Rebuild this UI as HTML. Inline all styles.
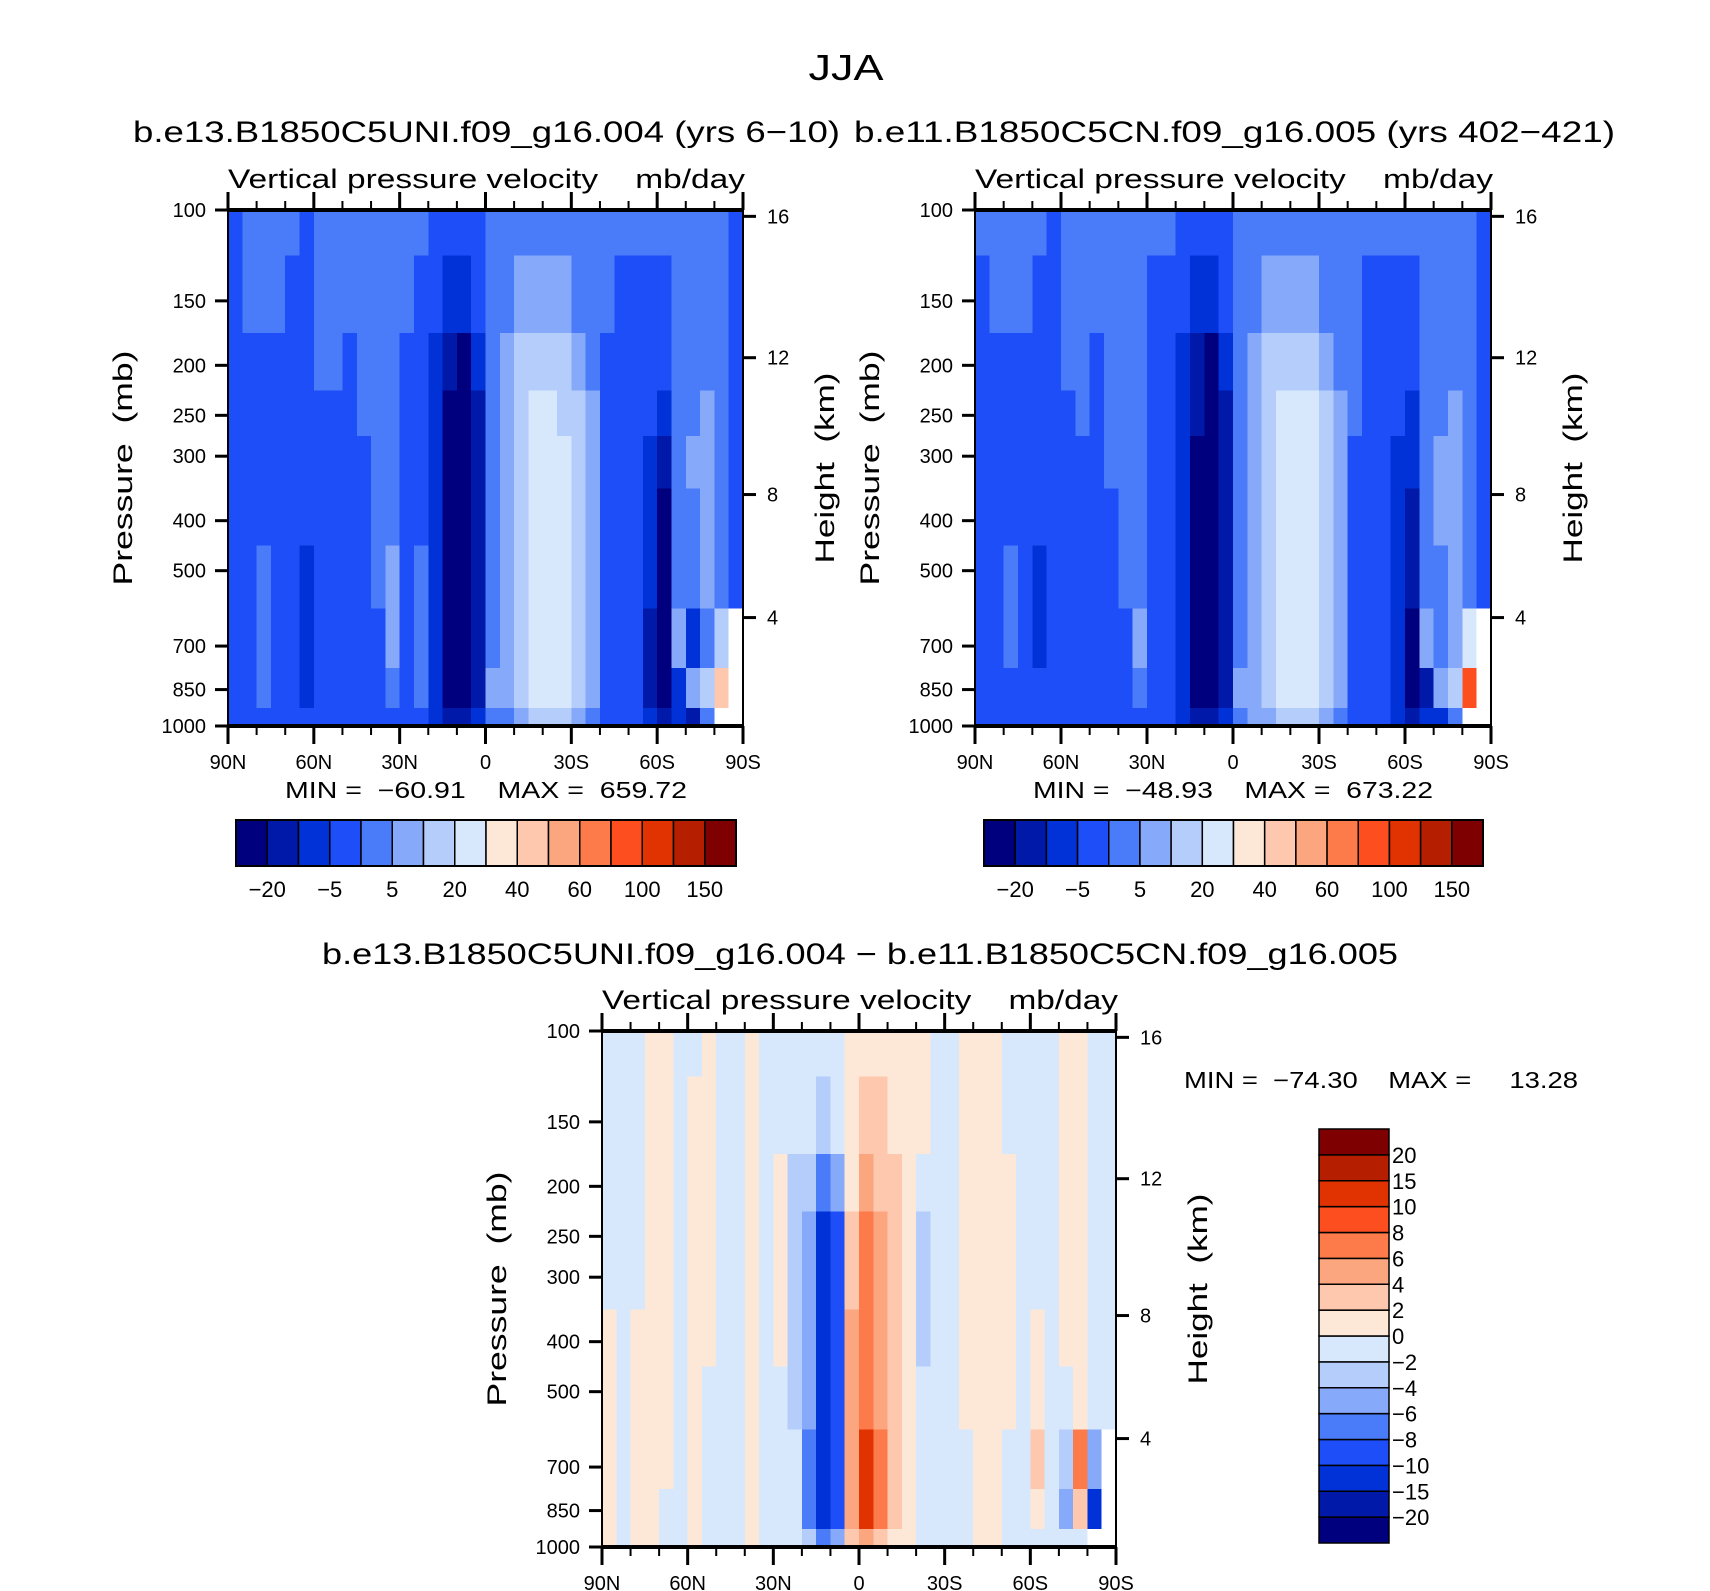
<!DOCTYPE html>
<html><head><meta charset="utf-8"><style>
html,body{margin:0;padding:0;background:#fff}
svg{display:block}
text{font-family:"Liberation Sans",sans-serif;fill:#000;white-space:pre}
</style></head><body>
<svg id="chart" width="1710" height="1591" viewBox="0 0 1710 1591" xmlns="http://www.w3.org/2000/svg">
<text x="846" y="80" font-size="36" text-anchor="middle" textLength="75" lengthAdjust="spacingAndGlyphs">JJA</text>
<text x="133" y="142" font-size="30" textLength="707" lengthAdjust="spacingAndGlyphs">b.e13.B1850C5UNI.f09_g16.004 (yrs 6−10)</text>
<text x="854" y="142" font-size="30" textLength="761" lengthAdjust="spacingAndGlyphs">b.e11.B1850C5CN.f09_g16.005 (yrs 402−421)</text>
<text x="322" y="964" font-size="30" textLength="1076" lengthAdjust="spacingAndGlyphs">b.e13.B1850C5UNI.f09_g16.004 − b.e11.B1850C5CN.f09_g16.005</text>
<g id="panels"></g>
</svg>
<script>
const pressureLevels = [100,150,200,250,300,400,500,700,850,1000];
const pressureTicks = [100,150,200,250,300,400,500,700,850,1000];
const heightTicks = [16,12,8,4];
const latTicks = [90,60,30,0,-30,-60,-90];
const latTickLabels = ["90N","60N","30N","0","30S","60S","90S"];
const levelsAbs = [-20,-10,-5,0,5,10,20,30,40,50,60,80,100,120,150];
const levelsAbsLabels = ["−20","−5","5","20","40","60","100","150"];
const levelsDiff = [-20,-15,-10,-8,-6,-4,-2,0,2,4,6,8,10,15,20];
const levelsDiffLabels = ["20","15","10","8","6","4","2","0","−2","−4","−6","−8","−10","−15","−20"];
const palette = ['#00007f','#0019a8','#0032d8','#1e4ef8','#4a7cfa','#86a9fa','#b4cdfb','#d8e8fc','#fde8d8','#fdc8ad','#fca67f','#fd7a4a','#fc4e1e','#e13202','#b51f00','#7f0000'];
const statsA = "MIN =  −60.91    MAX =  659.72";
const statsB = "MIN =  −48.93    MAX =  673.22";
const statsC = "MIN =  −74.30    MAX =     13.28";

const fieldA = [
[-2,-2,-2,-2,-2,-2,-2,-2,-2,-2],[2,2,-2,-2,-2,-2,-2,-2,-2,-2],[2,2,-2,-2,-2,-2,2,2,2,-2],[2,2,-2,-2,-2,-2,-2,-2,-2,-2],
[2,-2,-2,-2,-2,-2,-2,-2,-2,-2],[-2,-2,-2,-2,-2,-2,-7,-7,-7,-2],[2,2,2,-2,-2,-2,-2,-2,-2,-2],[2,2,2,-2,-2,-2,-2,-2,-2,-2],
[2,2,-2,-2,-2,-2,-2,-2,-2,-2],[2,2,2,2,-2,-2,-2,-2,-2,-2],[2,2,2,2,2,2,2,-2,-2,-2],[2,2,2,2,2,2,7,7,2,-2],
[2,2,-2,-2,-2,-2,-2,-2,-2,-2],[2,-2,-2,-2,-2,-2,2,2,2,-2],[-2,-2,-7,-7,-7,-7,-7,-7,-7,-7],[-2,-7,-15,-25,-25,-25,-25,-25,-25,-15],
[-2,-7,-25,-25,-25,-25,-25,-25,-25,-15],[-2,-2,-7,-15,-15,-15,-15,-15,-15,-7],[2,2,2,2,2,2,2,2,7,2],[2,2,7,7,7,7,7,7,7,2],
[2,7,15,15,15,15,15,15,15,7],[2,7,15,25,25,25,25,25,25,15],[2,7,15,25,25,25,25,25,25,15],[2,7,15,15,25,25,25,25,25,15],
[2,2,7,15,15,15,15,15,15,7],[2,2,2,7,7,7,7,7,7,2],[2,2,-2,-2,-2,-2,-2,-2,-2,-2],[2,-2,-2,-2,-2,-2,-2,-2,-2,-2],
[2,-2,-2,-2,-2,-2,-2,-2,-2,-2],[2,-2,-2,-2,-7,-7,-7,-15,-15,-7],[2,-2,-2,-7,-15,-25,-25,-25,-25,-15],[2,2,2,2,2,2,2,7,-7,-7],
[2,2,2,2,7,2,2,-7,7,-15],[2,2,2,7,7,7,7,2,15,2],[2,2,2,2,2,2,2,15,45,null],[-2,-2,-2,-2,-2,-2,-2,null,null,null]
];
const fieldB = [
[2,-2,-2,-2,-2,-2,-2,-2,-2,-2],[2,2,-2,-2,-2,-2,-2,-2,-2,-2],[2,2,-2,-2,-2,-2,2,2,-2,-2],[2,2,-2,-2,-2,-2,-2,-2,-2,-2],
[2,-2,-2,-2,-2,-2,-7,-7,-2,-2],[-2,-2,-2,-2,-2,-2,-2,-2,-2,-2],[2,2,2,-2,-2,-2,-2,-2,-2,-2],[2,2,2,2,-2,-2,-2,-2,-2,-2],
[2,2,-2,-2,-2,-2,-2,-2,-2,-2],[2,2,2,2,2,-2,-2,-2,-2,-2],[2,2,2,2,2,2,2,-2,-2,-2],[2,2,2,2,2,2,2,7,2,-2],
[2,-2,-2,-2,-2,-2,-2,-2,-2,-2],[2,-2,-2,-2,-2,-2,-2,-2,-2,-2],[-2,-2,-7,-7,-7,-7,-7,-7,-7,-7],[-2,-7,-15,-15,-25,-25,-25,-25,-25,-15],
[-2,-7,-25,-25,-25,-25,-25,-25,-25,-15],[-2,-2,-7,-15,-15,-15,-15,-15,-15,-7],[2,2,2,2,2,2,2,2,7,2],[2,2,7,7,7,7,7,7,7,7],
[2,7,15,15,15,15,15,15,15,7],[2,7,15,25,25,25,25,25,25,15],[2,7,15,25,25,25,25,25,25,15],[2,7,15,25,25,25,25,25,25,15],
[2,2,7,15,15,15,15,15,15,7],[2,2,2,7,7,7,7,7,7,2],[2,2,2,2,-2,-2,-2,-2,-2,-2],[2,-2,-2,-2,-2,-2,-2,-2,-2,-2],
[2,-2,-2,-2,-2,-2,-2,-2,-2,-2],[2,-2,-2,-2,-7,-7,-7,-7,-7,-7],[2,-2,-2,-7,-7,-15,-15,-25,-25,-15],[2,2,2,2,2,2,2,7,-15,-7],
[2,2,2,2,7,7,2,2,7,-7],[2,2,2,7,7,7,7,7,15,2],[2,2,2,2,2,2,2,25,90,null],[-2,-2,-2,-2,-2,-2,-2,null,null,null]
];
const fieldC = [
[-1,-1,-1,-1,-1,1,1,1,1,1],[-1,-1,-1,-1,-1,-1,-1,-1,-1,-1],[-1,-1,-1,-1,-1,1,1,1,1,1],[1,1,1,1,1,1,1,1,1,1],
[1,1,1,1,1,1,1,1,-1,-1],[-1,-1,-1,-1,-1,-1,-1,-1,-1,-1],[-1,1,1,1,1,1,1,1,1,1],[1,1,1,1,1,1,-1,-1,-1,-1],
[-1,-1,-1,-1,-1,-1,-1,-1,-1,-1],[-1,-1,-1,-1,-1,-1,-1,-1,-1,-1],[1,1,1,1,1,1,1,1,1,1],[-1,-1,-1,-1,-1,-1,-1,-1,-1,-1],
[-1,-1,1,1,1,1,-1,-1,-1,-1],[-1,-1,-3,-3,-3,-3,-3,-1,-1,-1],[-1,-1,-3,-5,-5,-5,-5,-7,-7,-3],[-1,-3,-7,-12,-12,-12,-12,-12,-12,-7],
[-1,-1,-5,-9,-9,-9,-9,-9,-9,-5],[1,1,1,3,3,5,5,5,5,3],[1,3,5,7,7,7,7,10,10,5],[1,3,3,5,5,5,5,7,7,3],
[1,1,3,3,3,3,3,3,3,1],[1,1,1,1,1,1,1,1,1,1],[1,1,-1,-3,-3,-3,-1,-1,-1,-1],[-1,-1,-1,-1,-1,-1,-1,-1,-1,-1],
[-1,-1,-1,-1,-1,-1,-1,-1,-1,-1],[1,1,1,1,1,1,1,-1,-1,-1],[1,1,1,1,1,1,1,1,1,1],[1,1,1,1,1,1,1,1,1,1],
[-1,-1,1,1,1,1,1,-1,-1,-1],[-1,-1,-1,-1,-1,-1,-1,-1,-1,-1],[-1,-1,-1,-1,-1,1,1,3,1,-1],[-1,-1,-1,-1,-1,-1,-1,-1,-1,-1],
[1,1,1,1,1,1,-1,-3,-5,-1],[1,1,1,1,1,1,1,7,3,-1],[-1,-1,-1,-1,-1,-1,-1,-5,-12,null],[-1,-1,-1,-1,-1,-1,-1,null,null,null]
];

const NS = "http://www.w3.org/2000/svg";
const root = document.getElementById('panels');
function el(tag, attrs, parent){
  const e = document.createElementNS(NS, tag);
  for (const k in attrs) e.setAttribute(k, attrs[k]);
  (parent||root).appendChild(e);
  return e;
}
function colorIndex(v, levels){ let i=0; for (const l of levels) if (v >= l) i++; return i; }
function heightToP(z){ const m=z*1000; if (m<=11000) return 1013.25*Math.pow(1-2.25577e-5*m,5.2559); return 226.32*Math.exp(-(m-11000)/6341.6); }

function drawPanel(box, field, levels, name, stats){
  const g = el('g', {});
  
  
  const xS = lat => box.x0 + (90-lat)/180*(box.x1-box.x0);
  const yS = p => box.y0 + (Math.log10(p)-2)*(box.y1-box.y0);
  const nc = field.length;
  const cw = (box.x1-box.x0)/nc;
  const bounds = [100];
  for (let r=0;r<pressureLevels.length-1;r++) bounds.push(Math.sqrt(pressureLevels[r]*pressureLevels[r+1]));
  bounds.push(1000);
  const cells = el('g', {'shape-rendering':'crispEdges'}, g);
  
  
  field.forEach((col, i) => {
    col.forEach((v, r) => {
      const ya = yS(bounds[r]), yb = yS(bounds[r+1]);
      const c = el('rect', {x:(box.x0+i*cw).toFixed(2), y:ya.toFixed(2), width:(cw+0.6).toFixed(2), height:(yb-ya+0.6).toFixed(2), fill: v===null ? '#ffffff' : palette[colorIndex(v, levels)]}, cells);
      
      
    });
  });
  const fr = el('rect', {x:box.x0, y:box.y0, width:box.x1-box.x0, height:box.y1-box.y0, fill:'none', stroke:'#000', 'stroke-width':2}, g);
  
  
  el('line', {x1:box.x0-1, x2:box.x1+1, y1:box.y0, y2:box.y0, stroke:'#000','stroke-width':4}, g);
  el('line', {x1:box.x0-1, x2:box.x1+1, y1:box.y1, y2:box.y1, stroke:'#000','stroke-width':4}, g);
  for (let lat=90; lat>=-90; lat-=10){
    const major = lat%30===0; const L = major?18:9; const x=xS(lat);
    el('line', {x1:x,x2:x,y1:box.y1,y2:box.y1+L,stroke:'#000','stroke-width':major?3:2}, g);
    el('line', {x1:x,x2:x,y1:box.y0,y2:box.y0-L,stroke:'#000','stroke-width':major?3:2}, g);
  }
  latTicks.forEach((lat, i) => {
    const t = el('text', {x:xS(lat), y:box.y1+43, 'font-size':20, 'text-anchor':'middle'}, g);
    t.textContent = latTickLabels[i];
    
    
  });
  pressureTicks.forEach(p => {
    const y = yS(p);
    el('line', {x1:box.x0-13,x2:box.x0,y1:y,y2:y,stroke:'#000','stroke-width':3}, g);
    const t = el('text', {x:box.x0-22, y:y+7, 'font-size':20, 'text-anchor':'end'}, g);
    t.textContent = p;
    
    
  });
  heightTicks.forEach(z => {
    const y = yS(heightToP(z));
    el('line', {x1:box.x1,x2:box.x1+13,y1:y,y2:y,stroke:'#000','stroke-width':3}, g);
    const t = el('text', {x:box.x1+24, y:y+7, 'font-size':20}, g);
    t.textContent = z;
    
    
  });
  const cy = (box.y0+box.y1)/2;
  const yt = el('text', {x:0,y:0,'font-size':27,'text-anchor':'middle',textLength:235,lengthAdjust:'spacingAndGlyphs',transform:`translate(${box.x0-96},${cy}) rotate(-90)`}, g);
  yt.textContent = 'Pressure  (mb)';
  
  
  const ht = el('text', {x:0,y:0,'font-size':27,'text-anchor':'middle',textLength:191,lengthAdjust:'spacingAndGlyphs',transform:`translate(${box.x1+91},${cy}) rotate(-90)`}, g);
  ht.textContent = 'Height  (km)';
  
  
  const vt = el('text', {x:box.x0, y:box.y0-22, 'font-size':27, textLength:(box.x1-box.x0+2), lengthAdjust:'spacingAndGlyphs'}, g);
  vt.textContent = 'Vertical pressure velocity    mb/day';
  
  
  const st = el('text', {x:stats.x, y:stats.y, 'font-size':23, textLength:stats.w, lengthAdjust:'spacingAndGlyphs'}, g);
  st.textContent = stats.t;
  
  
}

function hColorbar(x0, x1, y0, y1, name){
  const g = el('g', {});
  
  
  const w = (x1-x0)/16;
  palette.forEach((c,i) => {
    const r = el('rect', {x:x0+i*w, y:y0, width:w, height:y1-y0, fill:c, stroke:'#000','stroke-width':1.5}, g);
    
    
  });
  el('rect', {x:x0,y:y0,width:x1-x0,height:y1-y0,fill:'none',stroke:'#000','stroke-width':2}, g);
  levelsAbsLabels.forEach((lab,k) => {
    const t = el('text', {x:x0+(2*k+1)*w, y:y1+31, 'font-size':22, 'text-anchor':'middle'}, g);
    t.textContent = lab;
    
    
  });
}
function vColorbar(x0, x1, y0, y1, name){
  const g = el('g', {});
  
  
  const h = (y1-y0)/16;
  palette.forEach((c,i) => {
    const r = el('rect', {x:x0, y:y0+(15-i)*h, width:x1-x0, height:h, fill:c, stroke:'#000','stroke-width':1.5}, g);
    
    
  });
  levelsDiffLabels.forEach((lab,k) => {
    const t = el('text', {x:x1+3, y:y0+(k+1)*h+8, 'font-size':22}, g);
    t.textContent = lab;
    
    
  });
}

drawPanel({x0:228,x1:743,y0:210,y1:726}, fieldA, levelsAbs, 'left-panel', {x:285,y:798,w:402,t:statsA});
drawPanel({x0:975,x1:1491,y0:210,y1:726}, fieldB, levelsAbs, 'right-panel', {x:1033,y:798,w:400,t:statsB});
drawPanel({x0:602,x1:1116,y0:1031,y1:1547}, fieldC, levelsDiff, 'diff-panel', {x:1184,y:1088,w:394,t:statsC});
hColorbar(236, 736, 820, 866, 'left-colorbar');
hColorbar(984, 1483, 820, 866, 'right-colorbar');
vColorbar(1319, 1389, 1129, 1543, 'diff-colorbar');
</script>
</body></html>
